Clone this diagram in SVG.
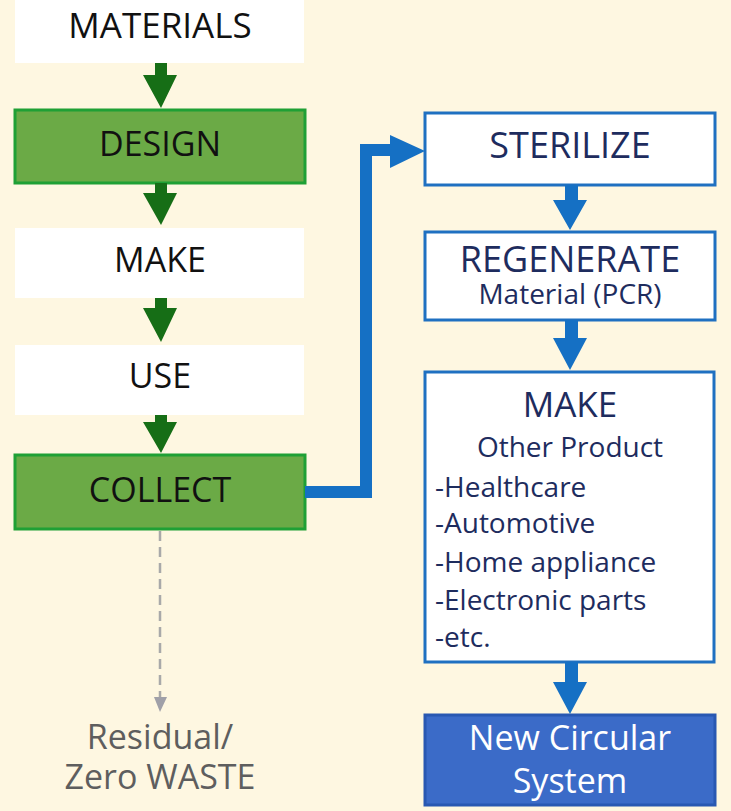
<svg xmlns="http://www.w3.org/2000/svg" width="731" height="811" viewBox="0 0 731 811">
<style>
.t{font-family:"Open Sans","Liberation Sans",sans-serif;text-anchor:middle;fill:#111}
.b{font-family:"Open Sans","Liberation Sans",sans-serif;fill:#1E2C5E}
.g{fill:#6BAA46;stroke:#1FA035;stroke-width:3}
.w{fill:#FFFFFF}
.bb{fill:#FFFFFF;stroke:#1F70C1;stroke-width:3}
.ga{fill:#166E16}
.ba{fill:#1570C4}
</style>
<rect width="731" height="811" fill="#FEF7E1"/>
<g id="materials"><rect class="w" x="15" y="0" width="289" height="63"/><text class="t" x="160" y="38" font-size="35">MATERIALS</text></g>
<g id="design"><rect class="g" x="15" y="110" width="290" height="73"/><text class="t" x="160" y="156" font-size="34">DESIGN</text></g>
<g id="make"><rect class="w" x="15" y="228" width="289" height="70"/><text class="t" x="160" y="272" font-size="34">MAKE</text></g>
<g id="use"><rect class="w" x="15" y="345" width="289" height="70"/><text class="t" x="160" y="388" font-size="34">USE</text></g>
<g id="collect"><rect class="g" x="15" y="455" width="290" height="74"/><text class="t" x="160" y="502" font-size="34">COLLECT</text></g>
<g id="residual"><text class="t" x="160" y="749" font-size="34" style="fill:#5E5E5E">Residual/</text><text class="t" x="160" y="789" font-size="34" style="fill:#5E5E5E">Zero WASTE</text></g>
<g id="sterilize"><rect class="bb" x="425" y="113" width="290" height="72"/><text class="b" x="570" y="158" font-size="36" text-anchor="middle">STERILIZE</text></g>
<g id="regenerate"><rect class="bb" x="425" y="232" width="290" height="88"/><text class="b" x="570" y="272" font-size="36" text-anchor="middle">REGENERATE</text><text class="b" x="570" y="304" font-size="28" text-anchor="middle">Material (PCR)</text></g>
<g id="make2"><rect class="bb" x="425" y="372" width="289" height="290"/><text class="b" x="570" y="417" font-size="35" text-anchor="middle">MAKE</text><text class="b" x="570" y="457" font-size="28" text-anchor="middle">Other Product</text>
<text class="b" x="435" y="497" font-size="28">-Healthcare</text><text class="b" x="435" y="533" font-size="28">-Automotive</text><text class="b" x="435" y="572" font-size="28">-Home appliance</text><text class="b" x="435" y="610" font-size="28">-Electronic parts</text><text class="b" x="435" y="647" font-size="28">-etc.</text></g>
<g id="newcircular"><rect x="425" y="715" width="290" height="90" fill="#3B6BC8" stroke="#2958B2" stroke-width="3"/><text class="t" x="570" y="750" font-size="34" style="fill:#FFFFFF">New Circular</text><text class="t" x="570" y="793" font-size="34" style="fill:#FFFFFF">System</text></g>
<g id="connectors">
<polygon class="ga" points="155,63 167,63 167,75 177,75 161,108 143,75 155,75"/>
<polygon class="ga" points="155,183 167,183 167,193 177,193 161,225 143,193 155,193"/>
<polygon class="ga" points="155,298 167,298 167,308 177,308 161,342 143,308 155,308"/>
<polygon class="ga" points="155,415 167,415 167,422 177,422 161,453 143,422 155,422"/>
<path d="M305,492 H366 V150 H392" fill="none" stroke="#1570C4" stroke-width="12"/>
<polygon class="ba" points="390,135 425,151 390,168"/>
<polygon class="ba" points="565,185 578,185 578,200 587,200 570,230 553,200 565,200"/>
<polygon class="ba" points="565,320 578,320 578,338 587,338 570,370 553,338 565,338"/>
<polygon class="ba" points="565,662 578,662 578,682 587,682 570,714 553,682 565,682"/>
<line x1="160" y1="531" x2="160" y2="700" stroke="#A9A9A9" stroke-width="2.5" stroke-dasharray="10,6"/>
<polygon points="154,697 167,697 160,712" fill="#A0A0A8"/>
</g>
</svg>
